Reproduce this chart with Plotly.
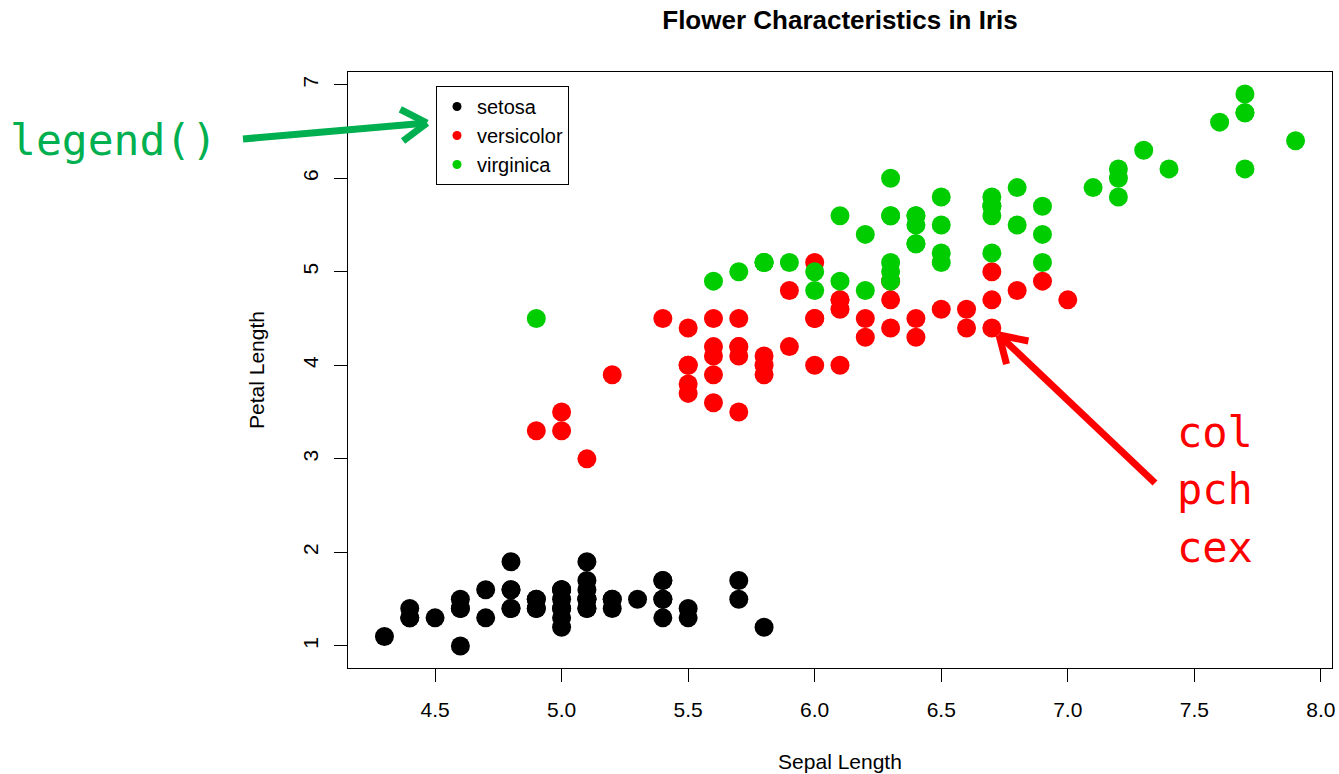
import math
import plotly.graph_objects as go

# ---------------- data (iris: Sepal.Length vs Petal.Length) ----------------
species = ["setosa", "versicolor", "virginica"]
colors = ["#000000", "#FF0000", "#00CD00"]

setosa_sl = [5.1, 4.9, 4.7, 4.6, 5.0, 5.4, 4.6, 5.0, 4.4, 4.9, 5.4, 4.8, 4.8, 4.3, 5.8, 5.7, 5.4, 5.1, 5.7, 5.1,
             5.4, 5.1, 4.6, 5.1, 4.8, 5.0, 5.0, 5.2, 5.2, 4.7, 4.8, 5.4, 5.2, 5.5, 4.9, 5.0, 5.5, 4.9, 4.4, 5.1,
             5.0, 4.5, 4.4, 5.0, 5.1, 4.8, 5.1, 4.6, 5.3, 5.0]
setosa_pl = [1.4, 1.4, 1.3, 1.5, 1.4, 1.7, 1.4, 1.5, 1.4, 1.5, 1.5, 1.6, 1.4, 1.1, 1.2, 1.5, 1.3, 1.4, 1.7, 1.5,
             1.7, 1.5, 1.0, 1.7, 1.9, 1.6, 1.6, 1.5, 1.4, 1.6, 1.6, 1.5, 1.5, 1.4, 1.5, 1.2, 1.3, 1.4, 1.3, 1.5,
             1.3, 1.3, 1.3, 1.6, 1.9, 1.4, 1.6, 1.4, 1.5, 1.4]

versicolor_sl = [7.0, 6.4, 6.9, 5.5, 6.5, 5.7, 6.3, 4.9, 6.6, 5.2, 5.0, 5.9, 6.0, 6.1, 5.6, 6.7, 5.6, 5.8, 6.2, 5.6,
                 5.9, 6.1, 6.3, 6.1, 6.4, 6.6, 6.8, 6.7, 6.0, 5.7, 5.5, 5.5, 5.8, 6.0, 5.4, 6.0, 6.7, 6.3, 5.6, 5.5,
                 5.5, 6.1, 5.8, 5.0, 5.6, 5.7, 5.7, 6.2, 5.1, 5.7]
versicolor_pl = [4.7, 4.5, 4.9, 4.0, 4.6, 4.5, 4.7, 3.3, 4.6, 3.9, 3.5, 4.2, 4.0, 4.7, 3.6, 4.4, 4.5, 4.1, 4.5, 3.9,
                 4.8, 4.0, 4.9, 4.7, 4.3, 4.4, 4.8, 5.0, 4.5, 3.5, 3.8, 3.7, 3.9, 5.1, 4.5, 4.5, 4.7, 4.4, 4.1, 4.0,
                 4.4, 4.6, 4.0, 3.3, 4.2, 4.2, 4.2, 4.3, 3.0, 4.1]

virginica_sl = [6.3, 5.8, 7.1, 6.3, 6.5, 7.6, 4.9, 7.3, 6.7, 7.2, 6.5, 6.4, 6.8, 5.7, 5.8, 6.4, 6.5, 7.7, 7.7, 6.0,
                6.9, 5.6, 7.7, 6.3, 6.7, 7.2, 6.2, 6.1, 6.4, 7.2, 7.4, 7.9, 6.4, 6.3, 6.1, 7.7, 6.3, 6.4, 6.0, 6.9,
                6.7, 6.9, 5.8, 6.8, 6.7, 6.7, 6.3, 6.5, 6.2, 5.9]
virginica_pl = [6.0, 5.1, 5.9, 5.6, 5.8, 6.6, 4.5, 6.3, 5.8, 6.1, 5.1, 5.3, 5.5, 5.0, 5.1, 5.3, 5.5, 6.7, 6.9, 5.0,
                5.7, 4.9, 6.7, 4.9, 5.7, 6.0, 4.8, 4.9, 5.6, 5.8, 6.1, 6.4, 5.6, 5.1, 5.6, 6.1, 5.6, 5.5, 4.8, 5.4,
                5.6, 5.1, 5.1, 5.9, 5.7, 5.2, 5.0, 5.2, 5.4, 5.1]

x_ticks = [4.5, 5.0, 5.5, 6.0, 6.5, 7.0, 7.5, 8.0]
x_ticktext = ["4.5", "5.0", "5.5", "6.0", "6.5", "7.0", "7.5", "8.0"]
y_ticks = [1, 2, 3, 4, 5, 6, 7]

# ---------------- layout geometry ----------------
W, H = 1339, 774
ML, MR, MT, MB = 348, 7, 72, 106
PW, PH = W - ML - MR, H - MT - MB

def px(x):
    return (x - ML) / PW

def py(y):
    return (H - MB - y) / PH

FONT = "Liberation Sans, Arial, Helvetica, sans-serif"
MONO = "DejaVu Sans Mono, Liberation Mono, monospace"

fig = go.Figure()

series = [(setosa_sl, setosa_pl), (versicolor_sl, versicolor_pl), (virginica_sl, virginica_pl)]
for name, col, (xs, ys) in zip(species, colors, series):
    fig.add_trace(go.Scatter(x=xs, y=ys, mode="markers", name=name, showlegend=False,
                             marker=dict(color=col, size=19, line=dict(width=0))))
# legend-only entries with small dots
for name, col in zip(species, colors):
    fig.add_trace(go.Scatter(x=[None], y=[None], mode="markers", name=name, showlegend=True,
                             marker=dict(color=col, size=9)))

allx = setosa_sl + versicolor_sl + virginica_sl
ally = setosa_pl + versicolor_pl + virginica_pl
xmin, xmax = min(allx), max(allx)
ymin, ymax = min(ally), max(ally)
xpad = (xmax - xmin) * 0.04
ypad = (ymax - ymin) * 0.04

fig.update_layout(
    width=W, height=H,
    margin=dict(l=ML, r=MR, t=MT, b=MB, autoexpand=False),
    paper_bgcolor="white", plot_bgcolor="white",
    font=dict(family=FONT, size=21, color="black"),
    title=dict(text="Flower Characteristics in Iris", x=0.5, xref="paper", xanchor="center",
               y=1 - 20 / H, yref="container", yanchor="middle",
               font=dict(family=FONT, size=26, color="black", weight="bold")),
    xaxis=dict(range=[xmin - xpad, xmax + xpad], tickvals=x_ticks, ticktext=x_ticktext,
               showline=True, mirror=True, linecolor="black", linewidth=1,
               ticks="outside", ticklen=13, tickcolor="black", tickwidth=1,
               ticklabelstandoff=10,
               showgrid=False, zeroline=False, automargin=False,
               tickfont=dict(family=FONT, size=21, color="black"),
               title=dict(text="Sepal Length", standoff=34, font=dict(family=FONT, size=21, color="black"))),
    yaxis=dict(range=[ymin - ypad, ymax + ypad], tickvals=y_ticks,
               showline=True, mirror=True, linecolor="black", linewidth=1,
               ticks="outside", ticklen=13, tickcolor="black", tickwidth=1,
               tickangle=-90, ticklabelstandoff=8,
               showgrid=False, zeroline=False, automargin=False,
               tickfont=dict(family=FONT, size=21, color="black"),
               title=dict(text="Petal Length", standoff=28, font=dict(family=FONT, size=21, color="black"))),
    legend=dict(x=px(436), y=py(86), xanchor="left", yanchor="top",
                bgcolor="white", bordercolor="black", borderwidth=1,
                font=dict(family=FONT, size=20, color="black"),
                itemsizing="trace", tracegroupgap=0),
    showlegend=True,
)

# ---------------- arrows drawn as shapes ----------------
def arrow(tail, tip, color, width=7, head=30, ang=32):
    tx, ty = tail
    hx, hy = tip
    d = math.atan2(ty - hy, tx - hx)  # direction from tip back to tail
    shapes = [dict(type="line", xref="paper", yref="paper",
                   x0=px(tx), y0=py(ty), x1=px(hx), y1=py(hy),
                   line=dict(color=color, width=width))]
    for s in (-1, 1):
        a = d + s * math.radians(ang)
        bx, by = hx + head * math.cos(a), hy + head * math.sin(a)
        shapes.append(dict(type="line", xref="paper", yref="paper",
                           x0=px(bx), y0=py(by), x1=px(hx), y1=py(hy),
                           line=dict(color=color, width=width)))
    return shapes

GREEN_TXT = "#00B050"
RED_TXT = "#FF0000"
shapes = arrow((243, 139), (427, 123), GREEN_TXT) + arrow((1155, 483), (999, 335), RED_TXT)
fig.update_layout(shapes=shapes)

annotations = [
    dict(text="legend()", x=px(113), y=py(140), xref="paper", yref="paper",
         xanchor="center", yanchor="middle", showarrow=False,
         font=dict(family=MONO, size=43, color=GREEN_TXT)),
]
for word, yc in zip(["col", "pch", "cex"], [432, 490, 547]):
    annotations.append(dict(text=word, x=px(1215), y=py(yc), xref="paper", yref="paper",
                            xanchor="center", yanchor="middle", showarrow=False,
                            font=dict(family=MONO, size=42, color=RED_TXT)))
fig.update_layout(annotations=annotations)

fig.write_html("out.html")
